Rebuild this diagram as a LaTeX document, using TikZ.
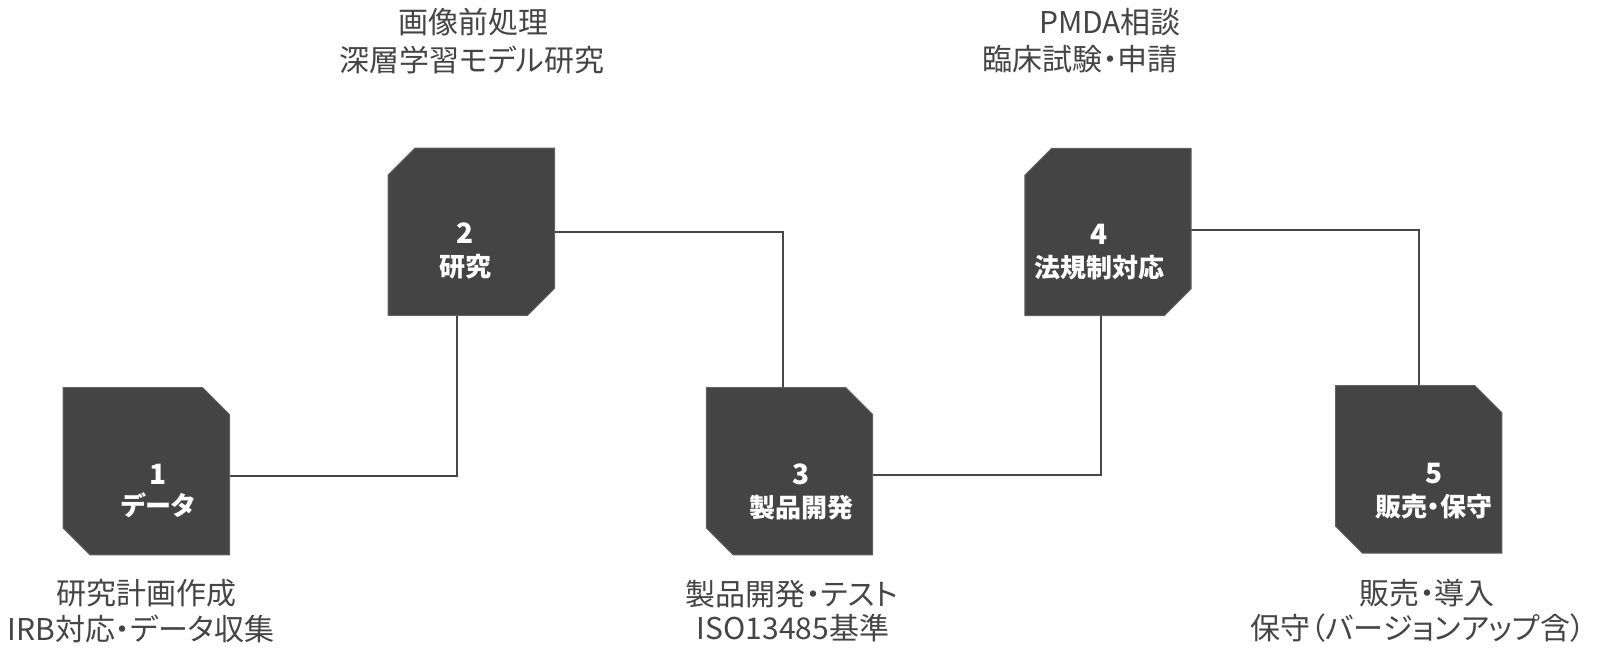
\documentclass[tikz,border=0pt]{standalone}
\usepackage{fontspec}
\setmainfont{Noto Sans CJK JP}[RawFeature={+palt}]
\definecolor{boxc}{HTML}{444444}
\definecolor{edgec}{HTML}{606060}
\definecolor{linec}{HTML}{464646}
\definecolor{txtc}{HTML}{454545}
\tikzset{
  boxnode/.style={rectangle, inner sep=0pt, minimum width=166pt, minimum height=167pt},
  boxfill/.style={fill=boxc, draw=edgec, line width=1pt},
  conn/.style={draw=linec, line width=2pt},
  numtxt/.style={text=white, font=\fontsize{28}{30}\selectfont\bfseries, inner sep=0pt},
  boxtxt/.style={text=white, font=\fontsize{26}{30}\selectfont\bfseries, inner sep=0pt},
  desc/.style={text=txtc, font=\fontsize{30}{36}\selectfont, inner sep=0pt},
}
% chamfer at north east and south west
\newcommand\chamNE[1]{%
  \filldraw[boxfill] (#1.north west) -- ([xshift=-27pt]#1.north east) -- ([yshift=-27pt]#1.north east)
    -- (#1.south east) -- ([xshift=27pt]#1.south west) -- ([yshift=27pt]#1.south west) -- cycle;}
% chamfer at north west and south east
\newcommand\chamNW[1]{%
  \filldraw[boxfill] ([xshift=27pt]#1.north west) -- (#1.north east) -- ([yshift=27pt]#1.south east)
    -- ([xshift=-27pt]#1.south east) -- (#1.south west) -- ([yshift=-27pt]#1.north west) -- cycle;}
\begin{document}
\begin{tikzpicture}[x=1pt,y=-1pt]
  \fill[white] (0,0) rectangle (1602,649);
  \useasboundingbox (0,0) rectangle (1602,649);

  % box anchors
  \node[boxnode] (b1) at (146.3,471.2) {};
  \node[boxnode] (b2) at (471.3,231.7) {};
  \node[boxnode] (b3) at (789.5,471.2) {};
  \node[boxnode] (b4) at (1108,232) {};
  \node[boxnode] (b5) at (1418.7,469.4) {};

  % connectors
  \draw[conn] ([yshift=-5pt]b1.east) -| ([xshift=-14pt]b2.south);
  \draw[conn] (b2.east) -| ([xshift=-7pt]b3.north);
  \draw[conn] ([yshift=-4pt]b3.east) -| ([xshift=-7pt]b4.south);
  \draw[conn] ([yshift=2pt]b4.east) -| (b5.north);

  % boxes
  \chamNE{b1}
  \chamNW{b2}
  \chamNE{b3}
  \chamNW{b4}
  \chamNE{b5}

  % box texts
  \node[numtxt] (n1) at ([xshift=12pt,yshift=-3pt]b1.center) {1};
  \node[boxtxt] (l1) at ([xshift=12pt,yshift=-34pt]b1.center) {データ};
  \node[numtxt] (n2) at ([xshift=-6pt,yshift=-1.5pt]b2.center) {2};
  \node[boxtxt] (l2) at ([xshift=-6pt,yshift=-35pt]b2.center) {研究};
  \node[numtxt] (n3) at ([xshift=12pt,yshift=-3pt]b3.center) {3};
  \node[boxtxt] (l3) at ([xshift=12pt,yshift=-36pt]b3.center) {製品開発};
  \node[numtxt] (n4) at ([xshift=-9pt,yshift=-2pt]b4.center) {4};
  \node[boxtxt] (l4) at ([xshift=-9pt,yshift=-36pt]b4.center) {法規制対応};
  \node[numtxt] (n5) at ([xshift=15pt,yshift=-4.6pt]b5.center) {5};
  \node[boxtxt] (l5) at ([xshift=15pt,yshift=-37pt]b5.center) {販売・保守};

  % descriptions
  \node[desc] (d1a) at (146,593) {研究計画作成};
  \node[desc] (d1b) at (141,628.5) {IRB対応・データ収集};
  \node[desc] (d2a) at (473,22) {画像前処理};
  \node[desc] (d2b) at (472,60) {深層学習モデル研究};
  \node[desc] (d3a) at (792,594) {製品開発・テスト};
  \node[desc] (d3b) at (793,628.5) {ISO13485基準};
  \node[desc] (d4a) at (1110,22) {PMDA相談};
  \node[desc] (d4b) at (1080,59) {臨床試験・申請};
  \node[desc] (d5a) at (1427,593) {販売・導入};
  \node[desc] (d5b) at (1418,628) {保守（バージョンアップ含）};
\end{tikzpicture}
\end{document}
